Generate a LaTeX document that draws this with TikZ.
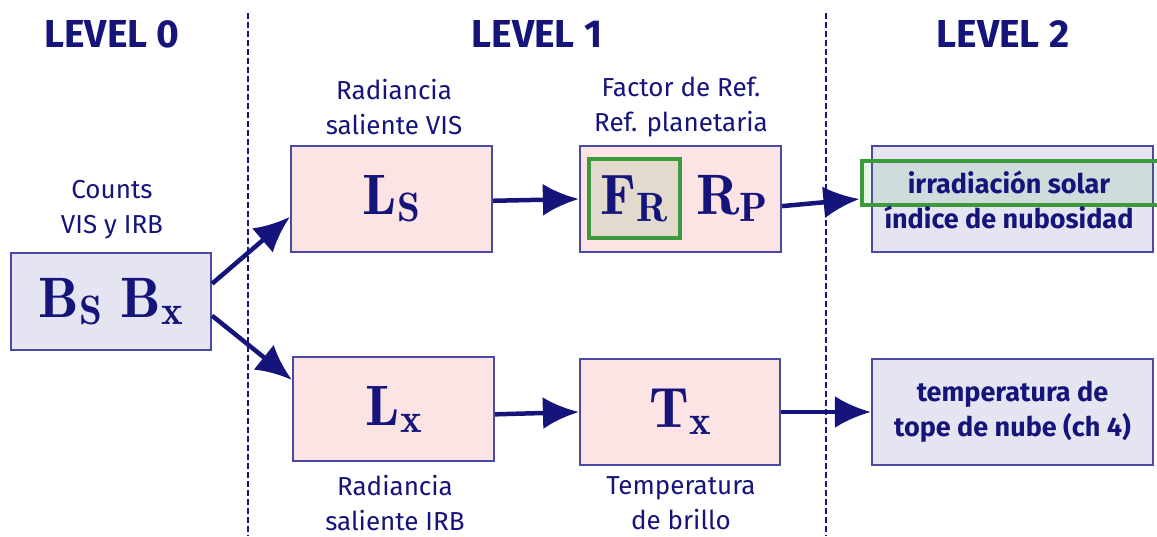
\documentclass[tikz,border=0pt]{standalone}
\usepackage{fontspec}
\setsansfont{Fira Sans}
\usetikzlibrary{arrows.meta}
\newcommand{\msub}[2]{$\mathbf{#1}$\kern0.5pt\raisebox{-7pt}{\fontsize{41}{41}\selectfont$\mathbf{#2}$}}
\definecolor{navy}{HTML}{14147A}
\definecolor{boxline}{HTML}{4A4AA6}
\definecolor{lav}{HTML}{E5E5F2}
\definecolor{pinkf}{HTML}{FDE4E4}
\definecolor{grn}{HTML}{3C9A3C}
\definecolor{tan}{HTML}{E3DACE}
\tikzset{
  box/.style={draw=boxline, line width=2.2pt, minimum width=200pt, minimum height=104pt, inner sep=0pt, text=navy},
  lavbox/.style={box, fill=lav},
  pinkbox/.style={box, fill=pinkf},
  lbl/.style={text=navy, align=center, font=\sffamily\fontsize{26}{35}\selectfont},
  boxtxt/.style={text=navy, align=center, font=\sffamily\bfseries\fontsize{27}{35}\selectfont},
  lvl/.style={text=navy, font=\sffamily\bfseries\fontsize{39}{40}\selectfont},
  bigm/.style={font=\fontsize{57}{60}\selectfont},
  arr/.style={navy, line width=4.5pt, -{Latex[length=36pt,width=32pt]}},
  sep/.style={navy, line width=1.2pt, dash pattern=on 6pt off 3pt},
}
\begin{document}
\begin{tikzpicture}[x=1pt,y=-1pt]
\useasboundingbox (0,0) rectangle (1157,536);
\draw[sep] (248,13) -- (248,536);
\draw[sep] (826,13) -- (826,536);
\node[lvl] (l0) at (112,34) {LEVEL 0};
\node[lvl] (l1) at (537,34) {LEVEL 1};
\node[lvl] (l2) at (1003,34) {LEVEL 2};

\node[lavbox, minimum height=97pt, bigm] (B) at (111,301.5) {\msub{B}{S}\hspace{18pt}\msub{B}{x}};
\node[lbl] (Bl) at (112,210) {Counts\\VIS y IRB};

\node[pinkbox, minimum width=201pt, minimum height=106pt] (Ls) at (391.5,199) {};
\node[bigm, text=navy] (Lst) at (Ls) {\msub{L}{S}};
\node[lbl] (Lsl) at (394,107) {Radiancia\\saliente VIS};

\node[pinkbox, minimum width=201pt, minimum height=106pt] (FR) at (680.5,199) {};
\node[draw=grn, fill=tan, line width=4pt, minimum width=91pt, minimum height=79pt, inner sep=0pt] (FRin) at (634,198.5) {};
\node[bigm, text=navy] (FRt) at (FRin) {\msub{F}{R}};
\node[bigm, text=navy] (RPt) at (732,198.5) {\msub{R}{P}};
\node[lbl] (FRl) at (681,107) {Factor de Ref.\\Ref. planetaria};

\node[lavbox, minimum width=281pt, minimum height=106pt] (IR) at (1012.5,199) {};
\node[draw=grn, fill=grn, fill opacity=0.12, draw opacity=1, line width=4pt, minimum width=305pt, minimum height=44pt, inner sep=0pt] (IRg) at (1014,183) {};
\node[boxtxt] (IRt) at (1009,200) {irradiación solar\\índice de nubosidad};

\node[pinkbox, minimum width=201pt, minimum height=104pt] (Lx) at (393.5,409) {};
\node[bigm, text=navy] (Lxt) at (Lx) {\msub{L}{x}};
\node[lbl] (Lxl) at (395,503) {Radiancia\\saliente IRB};

\node[pinkbox, minimum width=200pt, minimum height=106pt] (Tx) at (680,412) {};
\node[bigm, text=navy] (Txt) at (Tx) {\msub{T}{x}};
\node[lbl] (Txl) at (681,503) {Temperatura\\de brillo};

\node[lavbox, boxtxt, minimum width=281pt, minimum height=106pt] (TN) at (1012.5,412) {temperatura de\\tope de nube (ch 4)};

\draw[arr] (B.10.5) -- (Ls.190);
\draw[arr] (B.-8.5) -- (Lx.164);
\draw[arr] (Ls.-1) -- (FR.west);
\draw[arr] (FR.-4) -- (IRg.west |- FR.west);
\draw[arr] (Lx.-3) -- (Tx.west);
\draw[arr] (Tx.east) -- (TN.west);
\end{tikzpicture}
\end{document}
